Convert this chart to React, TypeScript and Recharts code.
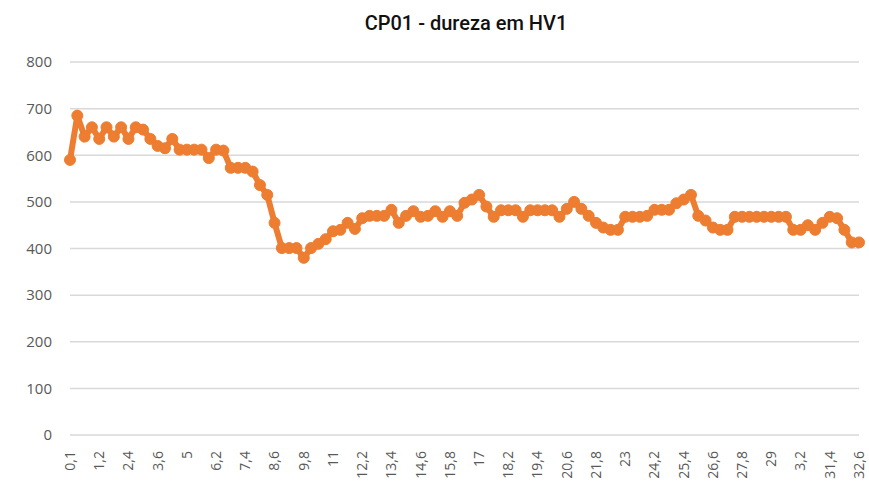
import { CartesianGrid, Line, LineChart, XAxis, YAxis } from "recharts";

// x tick labels, one every 4 readings (as printed in the source chart)
const xLabels = [
  "0,1", "1,2", "2,4", "3,6", "5", "6,2", "7,4", "8,6", "9,8", "11",
  "12,2", "13,4", "14,6", "15,8", "17", "18,2", "19,4", "20,6", "21,8", "23",
  "24,2", "25,4", "26,6", "27,8", "29", "3,2", "31,4", "32,6",
];

// hardness readings (HV1)
const hardness = [
  590, 685, 640, 660, 635, 660, 640, 660, 635, 660,
  655, 635, 620, 615, 635, 612, 612, 612, 612, 594,
  612, 610, 573, 573, 573, 565, 536, 515, 455, 401,
  401, 401, 380, 401, 410, 420, 437, 440, 455, 442,
  465, 470, 470, 470, 483, 455, 470, 480, 468, 470,
  480, 468, 480, 470, 498, 505, 515, 490, 468, 482,
  482, 482, 468, 482, 482, 482, 482, 468, 485, 500,
  485, 470, 455, 445, 440, 440, 468, 468, 468, 470,
  483, 483, 483, 497, 505, 515, 470, 460, 445, 440,
  440, 468, 468, 468, 468, 468, 468, 468, 468, 440,
  440, 450, 440, 455, 468, 465, 440, 413, 413,
];

const yTicks = [0, 100, 200, 300, 400, 500, 600, 700, 800];

const ORANGE = "#ED7D31";
const TICK_COLOR = "#595959";

const data = hardness.map((v, i) => ({ i, hv: v }));
const xTicks = xLabels.map((_, k) => k * 4);

function RotatedTick(props: any) {
  const { x, y, payload } = props;
  return (
    <g transform={`translate(${x},${y + 8})`}>
      <text
        transform="rotate(-90)"
        textAnchor="end"
        dy="0.35em"
        fill={TICK_COLOR}
        fontSize={14}
        fontFamily="'Open Sans', sans-serif"
      >
        {xLabels[Math.round(payload.value / 4)]}
      </text>
    </g>
  );
}

export default function App() {
  return (
    <div
      style={{
        position: "absolute",
        left: 0,
        top: 0,
        width: 869,
        height: 491,
        background: "#fff",
      }}
    >
      <div
        style={{
          position: "absolute",
          left: 0,
          width: 932,
          top: 11,
          textAlign: "center",
          fontFamily: "Roboto, sans-serif",
          fontWeight: 500,
          fontSize: 20,
          color: "#111",
        }}
      >
        CP01 - dureza em HV1
      </div>
      <LineChart
        width={869}
        height={491}
        data={data}
        margin={{ top: 62, right: 10, bottom: 0, left: 0 }}
      >
        <CartesianGrid vertical={false} stroke="#d9d9d9" strokeWidth={1.5} />
        <XAxis
          dataKey="i"
          type="number"
          domain={[0, hardness.length - 1]}
          ticks={xTicks}
          interval={0}
          height={56}
          axisLine={false}
          tickLine={false}
          tick={<RotatedTick />}
        />
        <YAxis
          width={70}
          domain={[0, 800]}
          ticks={yTicks}
          axisLine={false}
          tickLine={false}
          tickMargin={12}
          tick={{ fill: TICK_COLOR, fontSize: 15, fontFamily: "'Open Sans', sans-serif" }}
        />
        <Line
          type="linear"
          dataKey="hv"
          stroke={ORANGE}
          strokeWidth={6}
          dot={{ r: 5.5, fill: ORANGE, stroke: ORANGE, strokeWidth: 1 }}
          isAnimationActive={false}
        />
      </LineChart>
    </div>
  );
}
